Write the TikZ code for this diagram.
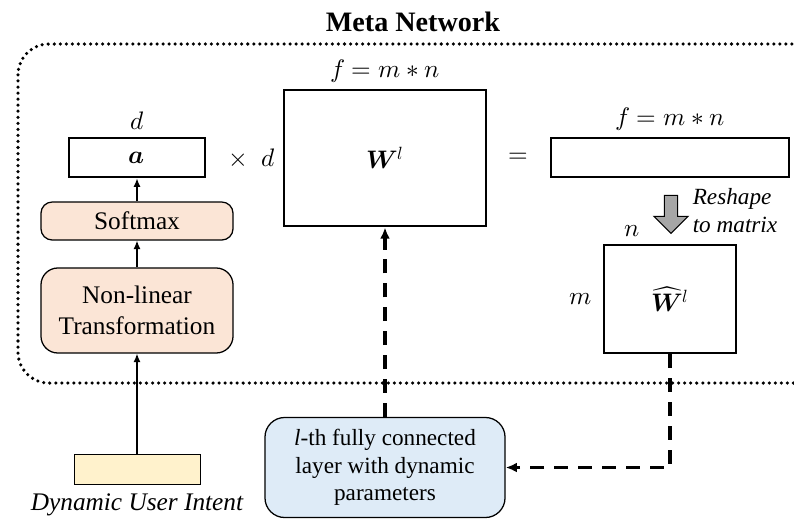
\documentclass[tikz,border=0pt]{standalone}
\usepackage{fontspec}
\usepackage{unicode-math}
\setmainfont{Liberation Serif}
\setmathfont{Latin Modern Math}
\usepackage{tikz}
\usetikzlibrary{arrows.meta,positioning,shapes.arrows}
\definecolor{peach}{HTML}{FBE5D6}
\definecolor{cream}{HTML}{FFF2CC}
\definecolor{paleblue}{HTML}{DEEBF7}

\begin{document}
\begin{tikzpicture}[
    x=0.025cm,y=-0.025cm,
    font=\fontsize{18}{22}\selectfont,
    mat/.style={draw,line width=2pt,inner sep=0pt},
    proc/.style={draw,line width=0.9pt,rounded corners=8pt,fill=peach,align=center,inner sep=0pt},
    flow/.style={-{Latex[length=6pt,width=5pt]},line width=0.9pt},
    param/.style={-{Latex[length=8pt,width=7pt]},line width=2.4pt,dash pattern=on 10pt off 7pt},
    >=Latex
  ]
    \clip (0,0) rectangle (794,520);
    % meta network frame
    \draw[line width=2.5pt,line cap=round,dash pattern=on 0pt off 4.3pt,rounded corners=22pt]
      (18,44) rectangle (830,383);
    \node[font=\fontsize{20}{24}\selectfont\bfseries] (title) at (413,22) {Meta Network};
    % matrices
    \node[mat,minimum width=3.4cm,minimum height=0.975cm] (a) at (137,157.5) {$\symbfit{a}$};
    \node[above=1pt of a] (dlab) {$d$};
    \node (times) at (252,158) {$\times\ \ d$};
    \node[mat,minimum width=5.05cm,minimum height=3.4cm] (w) at (385,158) {$\symbfit{W}^{l}$};
    \node[above=1pt of w] (flab) {$f=m\ast n$};
    \node (eq) at (518,158) {$=$};
    \node[mat,minimum width=5.95cm,minimum height=0.975cm] (vec) at (670,157.5) {};
    \node[above=1pt of vec] (vlab) {$f=m\ast n$};
    \node[single arrow,draw,line width=0.8pt,fill=black!35,rotate=-90,minimum height=0.95cm,
      minimum width=0.85cm,single arrow head extend=2.5pt,inner sep=1.2pt] (reshape) at (671,211) {};
    \node[font=\fontsize{16.5}{20}\selectfont\itshape,align=left] (rlab) at (735,211) {Reshape\\to matrix};
    \node[mat,minimum width=3.3cm,minimum height=2.7cm] (what) at (670,299) {$\widehat{\symbfit{W}}{}^{l}$};
    \node[above=1pt of what,xshift=-0.95cm] (nlab) {$n$};
    \node[left=4pt of what] (mlab) {$m$};
    % intent branch
    \node[proc,minimum width=4.8cm,minimum height=0.95cm] (soft) at (137,221) {Softmax};
    \node[proc,rounded corners=12pt,minimum width=4.8cm,minimum height=2.125cm] (nonlin) at (137,310.5) {Non-linear\\Transformation};
    \node[draw,line width=0.6pt,fill=cream,minimum width=3.15cm,minimum height=0.75cm] (intent) at (137,469) {};
    \node[below=3pt of intent,font=\fontsize{18}{22}\selectfont\itshape] (ilab) {Dynamic User Intent};
    \node[draw,line width=0.9pt,rounded corners=14pt,fill=paleblue,align=center,
      minimum width=6cm,minimum height=2.5cm,font=\fontsize{16.5}{19.5}\selectfont] (fc) at (385,467.5)
      {\textit{l}-th fully connected\\layer with dynamic\\parameters};
    \draw[flow] (intent) -- (nonlin);
    \draw[flow] (nonlin) -- (soft);
    \draw[flow] (soft) -- (a);
    \draw[param] (fc) -- (w);
    \draw[param] (what.south) |- (fc.east);
  \end{tikzpicture}
\end{document}
